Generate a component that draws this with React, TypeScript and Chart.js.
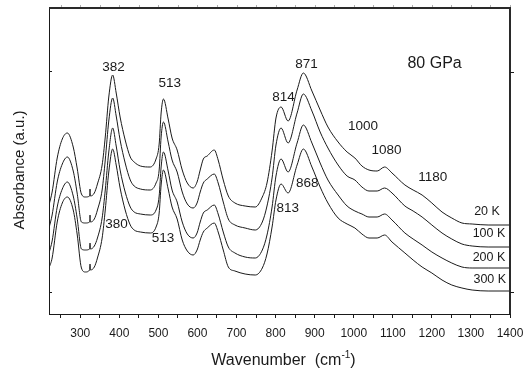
import React, { useEffect, useRef } from "react";
import { Chart, registerables } from "chart.js";

Chart.register(...registerables);

// Wavenumber grid (cm^-1)
const wavenumbers = [
  220, 228, 241, 254, 267, 282, 292, 303, 313, 324, 325, 326, 336, 344, 356, 364, 373, 383, 392, 402,
  415, 428, 438, 454, 479, 494, 502, 507, 513, 525, 535, 548, 561, 574, 589, 599, 607, 615, 625, 643,
  653, 666, 679, 696, 722, 748, 766, 778, 791, 801, 814, 832, 855, 871, 893, 914, 934, 960, 983, 1003,
  1021, 1039, 1060, 1079, 1098, 1131, 1152, 1175, 1200, 1226, 1251, 1277, 1303, 1344, 1400,
];

// Absorbance (a.u.), stacked spectra
const abs20K = [
  0.87, 1.0, 1.34, 1.53, 1.59, 1.45, 1.24, 0.98, 0.95, 0.96, 1.03, 0.96, 0.99, 1.08, 1.27, 1.55, 1.95, 2.17, 1.99, 1.75,
  1.52, 1.35, 1.3, 1.26, 1.25, 1.33, 1.48, 1.79, 1.93, 1.73, 1.54, 1.42, 1.22, 1.09, 1.04, 1.1, 1.22, 1.33, 1.36, 1.42,
  1.32, 1.12, 0.96, 0.89, 0.86, 0.85, 0.95, 1.09, 1.41, 1.74, 1.85, 1.71, 2.02, 2.19, 2.01, 1.82, 1.65, 1.5, 1.4, 1.34,
  1.26, 1.22, 1.21, 1.25, 1.19, 1.07, 1.02, 0.97, 0.89, 0.8, 0.74, 0.69, 0.68, 0.67, 0.67,
];
const abs100K = [
  0.64, 0.77, 1.1, 1.28, 1.35, 1.21, 0.99, 0.7, 0.69, 0.7, 0.77, 0.7, 0.73, 0.82, 1.02, 1.32, 1.71, 1.94, 1.76, 1.52,
  1.29, 1.12, 1.06, 1.03, 1.02, 1.09, 1.22, 1.55, 1.7, 1.5, 1.32, 1.2, 1.0, 0.88, 0.84, 0.89, 1.0, 1.09, 1.13, 1.18,
  1.09, 0.9, 0.73, 0.67, 0.64, 0.62, 0.7, 0.86, 1.14, 1.47, 1.64, 1.49, 1.79, 1.98, 1.81, 1.6, 1.44, 1.27, 1.16, 1.12,
  1.05, 1.01, 1.01, 1.04, 0.99, 0.86, 0.81, 0.75, 0.67, 0.59, 0.53, 0.48, 0.46, 0.45, 0.45,
];
const abs200K = [
  0.39, 0.51, 0.85, 1.03, 1.1, 0.96, 0.74, 0.43, 0.42, 0.43, 0.49, 0.43, 0.46, 0.54, 0.74, 1.02, 1.4, 1.64, 1.46, 1.22,
  1.0, 0.85, 0.8, 0.78, 0.77, 0.82, 0.96, 1.25, 1.4, 1.21, 1.02, 0.9, 0.7, 0.58, 0.54, 0.59, 0.7, 0.79, 0.82, 0.87,
  0.78, 0.6, 0.45, 0.39, 0.35, 0.34, 0.42, 0.57, 0.85, 1.16, 1.33, 1.2, 1.49, 1.67, 1.49, 1.29, 1.12, 0.97, 0.86, 0.81,
  0.78, 0.75, 0.75, 0.78, 0.72, 0.59, 0.53, 0.47, 0.4, 0.34, 0.29, 0.25, 0.24, 0.24, 0.24,
];
const abs300K = [
  0.24, 0.34, 0.7, 0.89, 0.95, 0.82, 0.58, 0.24, 0.2, 0.22, 0.28, 0.22, 0.25, 0.34, 0.54, 0.82, 1.2, 1.43, 1.27, 1.04,
  0.82, 0.67, 0.62, 0.6, 0.59, 0.65, 0.79, 1.07, 1.22, 1.03, 0.85, 0.73, 0.52, 0.41, 0.37, 0.42, 0.52, 0.6, 0.64, 0.69,
  0.6, 0.42, 0.25, 0.21, 0.18, 0.17, 0.24, 0.38, 0.65, 0.92, 1.08, 0.99, 1.27, 1.43, 1.25, 1.05, 0.89, 0.74, 0.68, 0.64,
  0.58, 0.54, 0.54, 0.57, 0.5, 0.39, 0.32, 0.25, 0.19, 0.12, 0.07, 0.04, 0.02, 0.01, 0.01,
];

const seriesNames = ["20 K", "100 K", "200 K", "300 K"];
const xTickLabels = [300, 400, 500, 600, 700, 800, 900, 1000, 1100, 1200, 1300, 1400];
const yTickValues = [0, 2.2];

// Peak annotations: text, wavenumber, absorbance
const peakTexts = ["382", "513", "814", "871", "1000", "1080", "1180", "380", "513", "813", "868"];
const peakWn = [385, 529, 820, 879, 1024, 1084, 1202, 393, 512, 831, 881];
const peakAbs = [2.25, 2.09, 1.95, 2.28, 1.66, 1.42, 1.15, 0.68, 0.54, 0.84, 1.09];

// Temperature labels (right-aligned)
const tempWn = [1374, 1388, 1388, 1390];
const tempAbs = [0.8, 0.58, 0.34, 0.12];

const FONT = "'Liberation Sans', Arial, Helvetica, sans-serif";
const INK = "#1a1a1a";

const framePlugin = {
  id: "framePlugin",
  afterDraw(chart: any) {
    const { ctx, chartArea, scales } = chart;
    const { left, right, top, bottom } = chartArea;
    const xs = scales.x;
    const ys = scales.y;
    ctx.save();
    ctx.strokeStyle = "#2a2a2a";
    ctx.lineWidth = 2;
    ctx.beginPath();
    ctx.moveTo(left, top);
    ctx.lineTo(right, top);
    ctx.lineTo(right, bottom);
    ctx.stroke();
    ctx.lineWidth = 1;
    ctx.strokeStyle = INK;
    ctx.beginPath();
    yTickValues.forEach((v) => {
      const py = Math.round(ys.getPixelForValue(v)) + 0.5;
      ctx.moveTo(right, py);
      ctx.lineTo(right + 4, py);
    });
    ctx.stroke();
    ctx.strokeStyle = "#b0b0b0";
    ctx.beginPath();
    xs.ticks.forEach((t: any) => {
      const px = Math.round(xs.getPixelForValue(t.value)) + 0.5;
      ctx.moveTo(px, top - 1);
      ctx.lineTo(px, top - 3);
    });
    ctx.stroke();
    ctx.restore();
  },
};

const textPlugin = {
  id: "textPlugin",
  afterDraw(chart: any) {
    const { ctx, scales } = chart;
    const xs = scales.x;
    const ys = scales.y;
    ctx.save();
    ctx.fillStyle = INK;
    ctx.textBaseline = "middle";

    ctx.font = `13.5px ${FONT}`;
    ctx.textAlign = "center";
    peakTexts.forEach((t, i) => {
      ctx.fillText(t, xs.getPixelForValue(peakWn[i]), ys.getPixelForValue(peakAbs[i]));
    });

    ctx.font = `16px ${FONT}`;
    ctx.fillText("80 GPa", xs.getPixelForValue(1207), ys.getPixelForValue(2.28));

    ctx.font = `12.5px ${FONT}`;
    ctx.textAlign = "right";
    seriesNames.forEach((t, i) => {
      ctx.fillText(t, xs.getPixelForValue(tempWn[i]), ys.getPixelForValue(tempAbs[i]));
    });

    ctx.save();
    ctx.font = `15px ${FONT}`;
    ctx.textAlign = "center";
    ctx.translate(20, 170);
    ctx.rotate(-Math.PI / 2);
    ctx.fillText("Absorbance (a.u.)", 0, 0);
    ctx.restore();

    ctx.textAlign = "left";
    ctx.font = `16px ${FONT}`;
    const a = "Wavenumber  (cm";
    const wa = ctx.measureText(a).width;
    ctx.font = `10px ${FONT}`;
    const sup = "-1";
    const ws = ctx.measureText(sup).width;
    ctx.font = `16px ${FONT}`;
    const wc = ctx.measureText(")").width;
    const total = wa + ws + wc;
    const x0 = 283.5 - total / 2;
    const yb = 361;
    ctx.fillText(a, x0, yb);
    ctx.font = `10px ${FONT}`;
    ctx.fillText(sup, x0 + wa, yb - 6);
    ctx.font = `16px ${FONT}`;
    ctx.fillText(")", x0 + wa + ws, yb);
    ctx.restore();
  },
};

export default function App() {
  const ref = useRef<HTMLCanvasElement | null>(null);

  useEffect(() => {
    if (!ref.current) return;
    const series = [abs20K, abs100K, abs200K, abs300K];
    const chart = new Chart(ref.current, {
      type: "line",
      data: {
        datasets: series.map((s, i) => ({
          label: seriesNames[i],
          data: wavenumbers.map((w, j) => ({ x: w, y: s[j] })),
          borderColor: INK,
          borderWidth: 1,
          pointRadius: 0,
          fill: false,
          cubicInterpolationMode: "monotone" as const,
        })),
      },
      options: {
        animation: false,
        responsive: false,
        devicePixelRatio: 1,
        layout: { padding: { top: 8, right: 22, left: 0, bottom: 0 } },
        plugins: { legend: { display: false }, tooltip: { enabled: false } },
        scales: {
          x: {
            type: "linear",
            position: "bottom",
            min: 220,
            max: 1400,
            afterFit: (s: any) => {
              s.height = 56;
            },
            ticks: {
              stepSize: 50,
              includeBounds: false,
              autoSkip: false,
              maxRotation: 0,
              padding: 8,
              color: INK,
              font: { family: FONT, size: 12 },
              callback: (v: any) => (xTickLabels.includes(Number(v)) ? String(v) : ""),
            },
            grid: { drawOnChartArea: false, drawTicks: true, tickLength: 4, color: INK },
            border: { display: true, color: INK, width: 1 },
          },
          y: {
            type: "linear",
            position: "left",
            min: -0.22,
            max: 2.84,
            afterFit: (s: any) => {
              s.width = 49;
            },
            afterBuildTicks: (s: any) => {
              s.ticks = yTickValues.map((v) => ({ value: v }));
            },
            ticks: { display: false },
            grid: { drawOnChartArea: false, drawTicks: true, tickLength: -3, color: INK },
            border: { display: true, color: INK, width: 1 },
          },
        },
      },
      plugins: [framePlugin, textPlugin],
    });
    return () => chart.destroy();
  }, []);

  return (
    <div style={{ position: "fixed", left: 0, top: 0, width: 532, height: 370, background: "#fff" }}>
      <canvas ref={ref} width={532} height={370} />
    </div>
  );
}
